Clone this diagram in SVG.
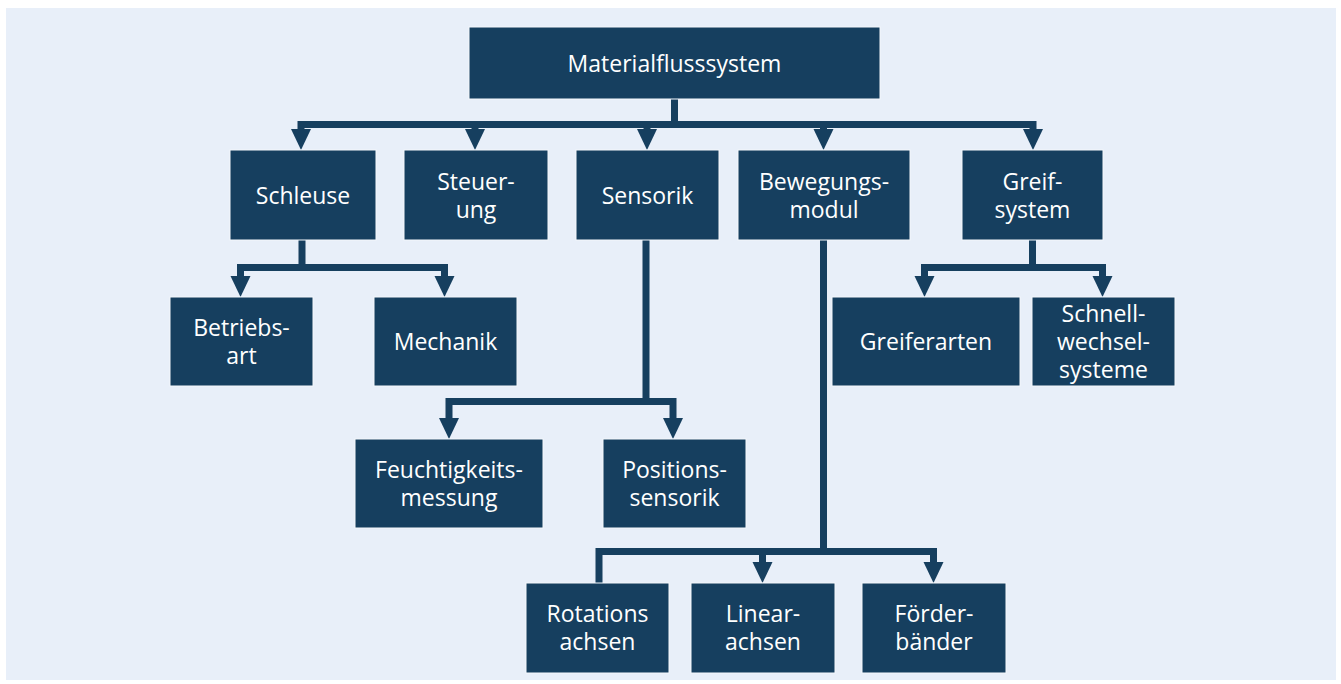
<svg xmlns="http://www.w3.org/2000/svg" width="1341" height="684" viewBox="0 0 1341 684">
<style>
.bg{fill:#e8eff9}
.box{fill:#163f5f;stroke:#f4f8fc;stroke-width:1}
.lbl{font-family:"Open Sans","Noto Sans",sans-serif;font-size:23px;fill:#ffffff;text-anchor:middle}
.ln{fill:none;stroke:#163f5f;stroke-width:7;stroke-linejoin:miter;stroke-linecap:butt}
.ah{fill:#163f5f}
</style>
<defs>
<path id="ah" d="M-10 -21 L10 -21 L0 0 Z"/>
</defs>
<rect x="0" y="0" width="1341" height="684" fill="#ffffff"/>
<rect class="bg" x="6" y="8" width="1330" height="672"/>

<g id="connectors">
<path class="ln" d="M674.5 99 V124.5 M301 131 V124.5 H1033 V131 M475 124.5 V131 M647 124.5 V131 M823.5 124.5 V131"/>
<path class="ln" d="M302 240 V267.5 M240.5 277 V267.5 H444.5 V277"/>
<path class="ln" d="M646 240 V401.5 M449 419 V401.5 H673 V419"/>
<path class="ln" d="M1032.5 240 V267.5 M924.5 277 V267.5 H1102.5 V277"/>
<path class="ln" d="M823.5 240 V551.5 M599 583 V551.5 H933.5 V563 M762.5 551.5 V563"/>
<g class="ah">
<use href="#ah" x="301" y="150"/>
<use href="#ah" x="475" y="150"/>
<use href="#ah" x="647" y="150"/>
<use href="#ah" x="823.5" y="150"/>
<use href="#ah" x="1033" y="150"/>
<use href="#ah" x="240.5" y="297"/>
<use href="#ah" x="444.5" y="297"/>
<use href="#ah" x="924.5" y="297"/>
<use href="#ah" x="1102.5" y="297"/>
<use href="#ah" x="449" y="439"/>
<use href="#ah" x="673" y="439"/>
<use href="#ah" x="762.5" y="583"/>
<use href="#ah" x="933.5" y="583"/>
</g>
</g>

<g id="n-root"><rect class="box" x="469" y="27" width="411" height="72"/><text class="lbl" x="674.5" y="71.5">Materialflusssystem</text></g>
<g id="n-schleuse"><rect class="box" x="230" y="150" width="146" height="90"/><text class="lbl" x="303" y="203.5">Schleuse</text></g>
<g id="n-steuerung"><rect class="box" x="404" y="150" width="144" height="90"/><text class="lbl" x="476" y="189.5">Steuer-</text><text class="lbl" x="476" y="217.5">ung</text></g>
<g id="n-sensorik"><rect class="box" x="576" y="150" width="143" height="90"/><text class="lbl" x="647.5" y="203.5">Sensorik</text></g>
<g id="n-bewegung"><rect class="box" x="738" y="150" width="172" height="90"/><text class="lbl" x="824" y="189.5">Bewegungs-</text><text class="lbl" x="824" y="217.5">modul</text></g>
<g id="n-greif"><rect class="box" x="962" y="150" width="141" height="90"/><text class="lbl" x="1032.5" y="189.5">Greif-</text><text class="lbl" x="1032.5" y="217.5">system</text></g>
<g id="n-betriebsart"><rect class="box" x="170" y="297" width="143" height="89"/><text class="lbl" x="241.5" y="336">Betriebs-</text><text class="lbl" x="241.5" y="364">art</text></g>
<g id="n-mechanik"><rect class="box" x="374" y="297" width="143" height="89"/><text class="lbl" x="445.5" y="350">Mechanik</text></g>
<g id="n-greiferarten"><rect class="box" x="832" y="297" width="188" height="89"/><text class="lbl" x="926" y="350">Greiferarten</text></g>
<g id="n-schnell"><rect class="box" x="1032" y="297" width="143" height="89"/><text class="lbl" x="1103.5" y="322">Schnell-</text><text class="lbl" x="1103.5" y="350">wechsel-</text><text class="lbl" x="1103.5" y="378">systeme</text></g>
<g id="n-feucht"><rect class="box" x="355" y="439" width="188" height="89"/><text class="lbl" x="449" y="478">Feuchtigkeits-</text><text class="lbl" x="449" y="506">messung</text></g>
<g id="n-position"><rect class="box" x="603" y="439" width="143" height="89"/><text class="lbl" x="674.5" y="478">Positions-</text><text class="lbl" x="674.5" y="506">sensorik</text></g>
<g id="n-rotation"><rect class="box" x="526" y="583" width="143" height="90"/><text class="lbl" x="597.5" y="622">Rotations</text><text class="lbl" x="597.5" y="650">achsen</text></g>
<g id="n-linear"><rect class="box" x="691" y="583" width="144" height="90"/><text class="lbl" x="763" y="622">Linear-</text><text class="lbl" x="763" y="650">achsen</text></g>
<g id="n-foerder"><rect class="box" x="862" y="583" width="144" height="90"/><text class="lbl" x="934" y="622">Förder-</text><text class="lbl" x="934" y="650">bänder</text></g>
</svg>
